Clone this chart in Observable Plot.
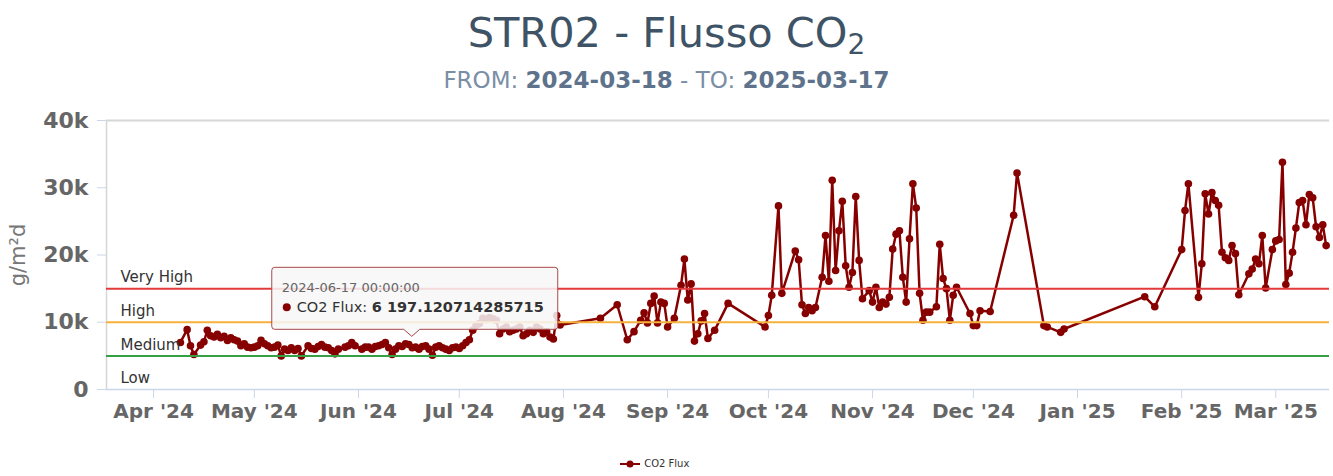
<!DOCTYPE html>
<html>
<head>
<meta charset="utf-8">
<script src="https://cdn.jsdelivr.net/npm/d3@7"></script>
<script src="https://cdn.jsdelivr.net/npm/@observablehq/plot@0.6"></script>
<style>
  body { margin: 0; background: #fff; font-family: "DejaVu Sans", sans-serif; }
  #wrap { position: relative; width: 1333px; height: 476px; overflow: hidden; background: #fff; }
  #title { position: absolute; left: 0; width: 1333px; top: 8px; text-align: center; font-size: 41.5px; line-height: 50px; color: #3e5366; }
  #title sub { font-size: 28px; vertical-align: -7px; line-height: 0; }
  #subtitle { position: absolute; left: 0; width: 1333px; top: 65px; text-align: center; font-size: 23px; line-height: 30px; color: #7a8ea5; }
  #subtitle b { color: #5e738b; }
  #chart { position: absolute; left: 0; top: 100px; }
  #legend { position: absolute; left: 619px; top: 458px; font-size: 10px; color: #333; white-space: nowrap; }
  #legend svg { vertical-align: middle; }
</style>
</head>
<body>
<div id="wrap">
  <div id="title">STR02 - Flusso CO<sub>2</sub></div>
  <div id="subtitle">FROM: <b>2024-03-18</b> - TO: <b>2025-03-17</b></div>
  <div id="chart"></div>
  <div id="legend"></div>
</div>
<script>
// ---- data ----
const fluxDates = [
  "2024-04-09","2024-04-11","2024-04-12","2024-04-13","2024-04-15","2024-04-16","2024-04-17","2024-04-18","2024-04-19","2024-04-20",
  "2024-04-21","2024-04-22","2024-04-23","2024-04-24","2024-04-25","2024-04-26","2024-04-27","2024-04-28","2024-04-29","2024-04-30",
  "2024-05-01","2024-05-02","2024-05-03","2024-05-04","2024-05-05","2024-05-06","2024-05-07","2024-05-08","2024-05-09","2024-05-10",
  "2024-05-11","2024-05-12","2024-05-13","2024-05-14","2024-05-15","2024-05-17","2024-05-18","2024-05-19","2024-05-20","2024-05-21",
  "2024-05-22","2024-05-23","2024-05-24","2024-05-25","2024-05-26","2024-05-28","2024-05-29","2024-05-30","2024-05-31","2024-06-02",
  "2024-06-03","2024-06-04","2024-06-05","2024-06-06","2024-06-07","2024-06-08","2024-06-09","2024-06-10","2024-06-11","2024-06-12",
  "2024-06-13","2024-06-14","2024-06-15","2024-06-16","2024-06-17","2024-06-18","2024-06-19","2024-06-20","2024-06-21","2024-06-22",
  "2024-06-23","2024-06-24","2024-06-25","2024-06-26","2024-06-27","2024-06-28","2024-06-29","2024-06-30","2024-07-01","2024-07-02",
  "2024-07-03","2024-07-04","2024-07-05","2024-07-06","2024-07-07","2024-07-08","2024-07-09","2024-07-10","2024-07-11","2024-07-12",
  "2024-07-13","2024-07-14","2024-07-15","2024-07-16","2024-07-17","2024-07-18","2024-07-19","2024-07-20","2024-07-21","2024-07-22",
  "2024-07-23","2024-07-24","2024-07-25","2024-07-26","2024-07-27","2024-07-28","2024-07-29","2024-07-30","2024-07-31","2024-08-12",
  "2024-08-17","2024-08-20","2024-08-22","2024-08-24","2024-08-25","2024-08-26","2024-08-27","2024-08-28","2024-08-29","2024-08-30",
  "2024-08-31","2024-09-01","2024-09-03","2024-09-05","2024-09-06","2024-09-07","2024-09-08","2024-09-09","2024-09-10","2024-09-11",
  "2024-09-12","2024-09-13","2024-09-15","2024-09-19","2024-09-30","2024-10-01","2024-10-02","2024-10-04","2024-10-05","2024-10-09",
  "2024-10-10","2024-10-11","2024-10-12","2024-10-13","2024-10-14","2024-10-15","2024-10-17","2024-10-18","2024-10-19","2024-10-20",
  "2024-10-21","2024-10-22","2024-10-23","2024-10-24","2024-10-25","2024-10-26","2024-10-27","2024-10-28","2024-10-29","2024-10-31",
  "2024-11-01","2024-11-02","2024-11-03","2024-11-04","2024-11-05","2024-11-06","2024-11-07","2024-11-08","2024-11-09","2024-11-10",
  "2024-11-11","2024-11-12","2024-11-13","2024-11-14","2024-11-15","2024-11-16","2024-11-17","2024-11-18","2024-11-20","2024-11-21",
  "2024-11-22","2024-11-23","2024-11-24","2024-11-25","2024-11-26","2024-11-30","2024-12-01","2024-12-02","2024-12-03","2024-12-06",
  "2024-12-13","2024-12-14","2024-12-22","2024-12-23","2024-12-27","2024-12-28","2025-01-21","2025-01-24","2025-02-01","2025-02-02",
  "2025-02-03","2025-02-06","2025-02-07","2025-02-08","2025-02-09","2025-02-10","2025-02-11","2025-02-12","2025-02-13","2025-02-14",
  "2025-02-15","2025-02-16","2025-02-17","2025-02-18","2025-02-21","2025-02-22","2025-02-23","2025-02-24","2025-02-25","2025-02-26",
  "2025-02-28","2025-03-01","2025-03-02","2025-03-03","2025-03-04","2025-03-05","2025-03-06","2025-03-07","2025-03-08","2025-03-09",
  "2025-03-10","2025-03-11","2025-03-12","2025-03-13","2025-03-14","2025-03-15","2025-03-16"
];
const fluxValues = [
  7000,8900,6500,5200,6600,7100,8800,8000,7800,8200,
  7700,7900,7300,7700,7400,7200,6500,6800,6300,6200,
  6300,6500,7300,6800,6500,6200,6300,6600,5000,6000,
  5800,6200,5800,6100,5000,6500,6100,6000,6400,6700,
  6300,6200,5800,5300,6000,6300,6500,7000,6500,6000,
  6300,6300,6000,6400,6500,6700,7000,6200,5200,6000,
  6500,6400,6800,6700,6197.120714285715,6300,6000,6400,6500,6000,
  5100,6300,6500,6200,6000,5800,6200,6300,6100,6500,
  7000,7400,8800,9500,9800,10600,10400,10700,10500,10300,
  8300,9000,9300,8600,8800,9000,9300,8000,8300,8800,
  8500,9300,9000,8300,8600,7800,7500,11000,9600,10600,
  12600,7400,8600,10300,11400,9900,12800,13900,9900,13000,
  12800,9300,10600,15500,19400,13300,15700,7200,8300,10200,
  11300,7600,8800,12800,9300,11000,14000,27300,14300,20600,
  19300,12600,11300,12200,11700,12200,16700,22900,16100,31100,
  17700,23600,28000,18400,15200,17400,28700,19200,13500,14700,
  13000,15200,12200,13000,12700,13700,20900,23100,23600,16700,
  13000,22400,30600,27000,14300,10300,11500,11500,12300,21600,
  16500,15000,10300,14000,15200,11300,9500,9500,11700,11600,
  25900,32200,9500,9300,8500,9000,13800,12300,20800,26600,
  30600,13700,18700,29100,26100,29300,28100,27400,20400,19600,
  19200,21400,20200,14100,17200,17900,19400,18700,22900,15100,
  20800,22100,22300,33800,15600,17300,20400,24000,27800,28100,
  24500,29000,28500,24200,22600,24500,21400
];
const periodStart = "2024-03-18";
const periodEnd = "2025-03-17";
const yTicks = [0, 10000, 20000, 30000, 40000];
const thresholdValues = [15000, 10000, 5000];
const thresholdColors = ["#e23a3a", "#f6b23c", "#34a043"];
const bandLabels = ["Very High", "High", "Medium", "Low"];
const bandLabelValues = [15000, 10000, 5000, 0];
const tooltipDate = "2024-06-17";
const seriesName = "CO2 Flux";

// ---- build tables ----
const parse = d3.utcParse("%Y-%m-%d");
const data = fluxDates.map((d, i) => ({date: parse(d), value: fluxValues[i]}));
const thresholds = thresholdValues.map((v, i) => ({value: v, color: thresholdColors[i]}));
const bands = bandLabels.map((l, i) => ({label: l, value: bandLabelValues[i]}));
const x0 = parse(periodStart), x1 = parse(periodEnd);
const monthTicks = d3.utcMonth.range(d3.utcMonth.ceil(x0), x1);
const fmtMonth = d3.utcFormat("%b '%y");

const chart = Plot.plot({
  width: 1333,
  height: 335,
  marginLeft: 106,
  marginRight: 4,
  marginTop: 20,
  marginBottom: 46,
  style: {fontFamily: "DejaVu Sans, sans-serif", background: "transparent", overflow: "visible"},
  x: {type: "utc", domain: [x0, x1]},
  y: {domain: [0, 40000]},
  marks: [
    Plot.ruleY([40000], {stroke: "#d6d6d6", strokeWidth: 2}),
    Plot.ruleX([x0], {stroke: "#d6d6d6", strokeWidth: 1.5}),
    Plot.axisX({ticks: monthTicks, tickFormat: fmtMonth, tickSize: 9, tickPadding: 5, fontSize: 20, fontWeight: "bold", fill: "#666", stroke: "#ccd6eb", label: null}),
    Plot.axisY({ticks: yTicks, tickFormat: d => d === 0 ? "0" : (d / 1000) + "k", tickSize: 9, tickPadding: 9, fontSize: 22, fontWeight: "bold", fill: "#666", stroke: "#ccd6eb", label: null}),
    Plot.axisY({ticks: [], label: "g/m²d", labelAnchor: "center", labelArrow: "none", labelOffset: 96, fontSize: 21, fill: "#777"}),
    Plot.ruleY([0], {stroke: "#ccd6eb", strokeWidth: 1.5}),
    Plot.line(data, {x: "date", y: "value", stroke: "#870000", strokeWidth: 2.5}),
    Plot.dot(data, {x: "date", y: "value", r: 3.8, fill: "#870000"}),
    Plot.ruleY(thresholds, {y: "value", stroke: "color", strokeWidth: 2}),
    Plot.text(bands, {x: () => x0, y: "value", text: "label", dx: 14, dy: -11, textAnchor: "start", fontSize: 15, fill: "#333"})
  ]
});
document.getElementById("chart").appendChild(chart);

// ---- tooltip, positioned through the chart's scales ----
const tp = data.find(d => +d.date === +parse(tooltipDate));
const sx = chart.scale("x"), sy = chart.scale("y");
const px = sx.apply(tp.date), py = sy.apply(tp.value);
const bw = 286, bh = 62;
const bl = px - 140, bb = py - 18, bt = bb - bh;
const svg = d3.select(chart);
const g = svg.append("g").attr("font-family", "DejaVu Sans, sans-serif").attr("text-anchor", "start");
g.append("path")
  .attr("d", `M${bl + 3},${bt} H${bl + bw - 3} Q${bl + bw},${bt} ${bl + bw},${bt + 3} V${bb - 3} Q${bl + bw},${bb} ${bl + bw - 3},${bb} H${px + 8} L${px},${bb + 7} L${px - 8},${bb} H${bl + 3} Q${bl},${bb} ${bl},${bb - 3} V${bt + 3} Q${bl},${bt} ${bl + 3},${bt} Z`)
  .attr("fill", "rgba(247,247,247,0.85)")
  .attr("stroke", "#a8484a")
  .attr("stroke-width", 1);
const fmtTip = d3.utcFormat("%Y-%m-%d %H:%M:%S");
g.append("text").attr("x", bl + 10).attr("y", bt + 25).attr("font-size", 13).attr("fill", "#666").text(fmtTip(tp.date));
g.append("circle").attr("cx", bl + 15).attr("cy", bt + 40).attr("r", 4).attr("fill", "#870000");
const valStr = (() => { const s = String(tp.value).split("."); return s[0].replace(/\B(?=(\d{3})+(?!\d))/g, " ") + (s[1] ? "." + s[1] : ""); })();
const t2 = g.append("text").attr("x", bl + 25).attr("y", bt + 45).attr("font-size", 14.5).attr("fill", "#333");
t2.append("tspan").text(seriesName + ": ");
t2.append("tspan").attr("font-weight", "bold").text(valStr);

// ---- legend ----
const leg = document.getElementById("legend");
leg.innerHTML = `<svg width="22" height="10"><line x1="1" y1="5" x2="21" y2="5" stroke="#870000" stroke-width="2"/><circle cx="11" cy="5" r="3.5" fill="#870000"/></svg> <span style="color:#333">${seriesName}</span>`;
</script>
</body>
</html>
